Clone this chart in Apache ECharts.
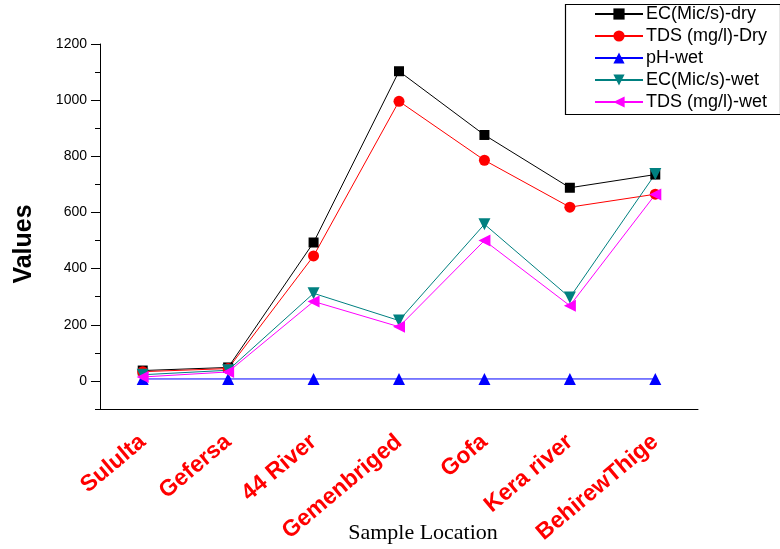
<!DOCTYPE html>
<html>
<head>
<meta charset="utf-8">
<script src="https://cdn.jsdelivr.net/npm/echarts@6/dist/echarts.min.js"></script>
<style>
  html, body { margin: 0; padding: 0; background: #fff; }
  #chart { width: 780px; height: 549px; }
</style>
</head>
<body>
<div id="chart"></div>
<script>
// Sampling sites along the x axis
const categories = ['Sululta', 'Gefersa', '44 River', 'Gemenbriged', 'Gofa', 'Kera river', 'BehirewThige'];

// Measured values per site
const ecDry  = [37, 48, 493, 1103, 876, 688, 735];
const tdsDry = [33, 44, 445, 996, 786, 619, 665];
const phWet  = [7, 7, 7, 7, 7, 7, 7];
const ecWet  = [22, 38, 312, 215, 558, 297, 737];
const tdsWet = [14, 32, 283, 193, 500, 268, 664];

// Y axis: labelled major ticks and unlabelled minor ticks
const yMajorTicks = [0, 200, 400, 600, 800, 1000, 1200];
const yMinorTicks = [-100, 100, 300, 500, 700, 900, 1100];
const yMin = -100;
const yMax = 1200;

const sans = 'Liberation Sans, Arial, sans-serif';
const serif = 'Liberation Serif, Times New Roman, serif';

const chart = echarts.init(document.getElementById('chart'), null, { renderer: 'canvas' });

function lineSeries(name, data, color, symbol, size, rotate) {
  return {
    name: name,
    type: 'line',
    data: data,
    xAxisIndex: 0,
    yAxisIndex: 0,
    symbol: symbol,
    symbolSize: size,
    symbolRotate: rotate || 0,
    showAllSymbol: true,
    lineStyle: { color: color, width: 1 },
    itemStyle: { color: color },
    emphasis: { disabled: true },
    animation: false
  };
}

chart.setOption({
  animation: false,
  backgroundColor: '#ffffff',
  grid: { left: 100, right: 82, top: 44, bottom: 140, containLabel: false },
  legend: {
    orient: 'vertical',
    left: 594,
    top: 5,
    itemWidth: 48,
    itemHeight: 14,
    itemGap: 4,
    padding: 0,
    textStyle: { fontFamily: sans, fontSize: 18, color: '#000', padding: [0, 0, 0, -2] },
    data: ['EC(Mic/s)-dry', 'TDS (mg/l)-Dry', 'pH-wet', 'EC(Mic/s)-wet', 'TDS (mg/l)-wet']
  },
  xAxis: [
    {
      type: 'category',
      data: categories,
      position: 'bottom',
      boundaryGap: true,
      axisLine: { onZero: false, lineStyle: { color: '#000', width: 1 } },
      axisTick: { alignWithLabel: true, length: 7, inside: false, lineStyle: { color: '#000' } },
      axisLabel: {
        rotate: 40,
        margin: 30,
        color: '#ff0000',
        fontFamily: sans,
        fontWeight: 'bold',
        fontSize: 23
      },
      splitLine: { show: false }
    },
    {
      type: 'category',
      data: categories,
      position: 'bottom',
      boundaryGap: true,
      axisLine: { show: false, onZero: false },
      axisTick: { length: 4, lineStyle: { color: '#000' } },
      axisLabel: { show: false },
      splitLine: { show: false }
    }
  ],
  yAxis: [
    {
      type: 'value',
      min: yMin,
      max: yMax,
      position: 'left',
      axisLine: { show: true, onZero: false, lineStyle: { color: '#000', width: 1 } },
      axisTick: { show: true, length: 9, customValues: yMajorTicks, lineStyle: { color: '#000' } },
      axisLabel: {
        customValues: yMajorTicks,
        formatter: function (v) { return String(v); },
        margin: 13,
        color: '#000',
        fontFamily: sans,
        fontSize: 14
      },
      splitLine: { show: false }
    },
    {
      type: 'value',
      min: yMin,
      max: yMax,
      position: 'left',
      axisLine: { show: false, onZero: false },
      axisTick: { show: true, length: 5, customValues: yMinorTicks, lineStyle: { color: '#000' } },
      axisLabel: { show: false },
      splitLine: { show: false }
    }
  ],
  series: [
    lineSeries('EC(Mic/s)-dry', ecDry, '#000000', 'rect', 10),
    lineSeries('TDS (mg/l)-Dry', tdsDry, '#ff0000', 'circle', 11),
    lineSeries('pH-wet', phWet, '#0000ff', 'triangle', 12),
    lineSeries('EC(Mic/s)-wet', ecWet, '#008080', 'triangle', 12, 180),
    lineSeries('TDS (mg/l)-wet', tdsWet, '#ff00ff', 'triangle', 12, 90)
  ],
  graphic: [
    {
      type: 'rect',
      left: 563,
      top: 2,
      shape: { width: 215, height: 110 },
      style: { fill: 'none', stroke: '#000', lineWidth: 1.2 },
      silent: true
    },
    {
      type: 'text',
      style: {
        text: 'Values',
        font: 'bold 25px ' + sans,
        fill: '#000',
        textAlign: 'center',
        textVerticalAlign: 'middle'
      },
      x: 24,
      y: 244,
      rotation: Math.PI / 2,
      silent: true
    },
    {
      type: 'text',
      style: {
        text: 'Sample Location',
        font: '22px ' + serif,
        fill: '#000',
        textAlign: 'center',
        textVerticalAlign: 'middle'
      },
      x: 423,
      y: 533,
      silent: true
    }
  ]
});
</script>
</body>
</html>
